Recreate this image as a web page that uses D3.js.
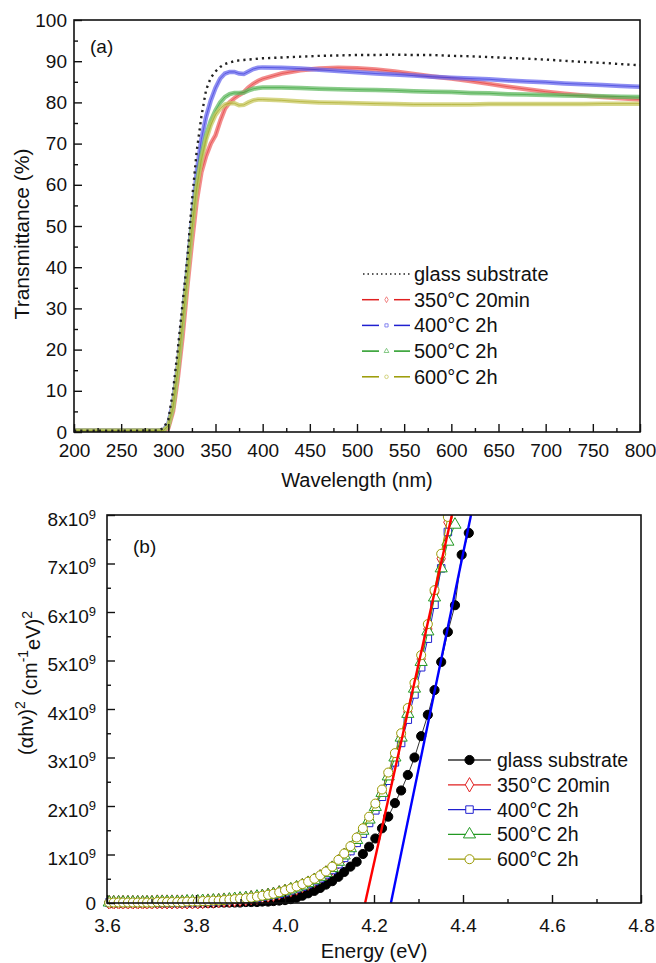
<!DOCTYPE html>
<html>
<head>
<meta charset="utf-8">
<script src="https://cdn.jsdelivr.net/npm/d3@7/dist/d3.min.js"></script>
<style>
  body { margin: 0; background: #fff; }
  text { font-family: Arial, "Liberation Sans", sans-serif; fill: #111; }
</style>
</head>
<body>
<div id="root"></div>
<script>
// ---- panel (a): transmittance spectra ----
const wavelength = [200, 250, 290,
  295, 300, 305, 310, 315, 320, 325, 330, 335, 340, 345, 350, 355, 360, 365, 370, 375, 380, 385, 390, 395, 400,
  420, 440, 460, 480, 500, 520, 540, 560, 580, 600, 620, 640, 660, 680, 700, 720, 740, 760, 780, 800];
const transGlass = [0.3, 0.3, 0.4,
  1, 3, 10, 20, 31, 42, 56, 68, 76.5, 83, 86, 87.5, 88.6, 89.3, 89.7, 90, 90.2, 90.3, 90.4, 90.5, 90.6, 90.7,
  90.9, 91.1, 91.3, 91.4, 91.5, 91.5, 91.6, 91.5, 91.5, 91.3, 91.2, 91.0, 90.8, 90.6, 90.4, 90.1, 89.8, 89.6, 89.3, 89.0];
const trans350 = [0.3, 0.3, 0.3,
  0.3, 1, 5, 13, 23, 35, 46, 56, 63, 67, 70, 72, 75.5, 78.5, 80, 81, 81.8, 82.5, 83.6, 84.5, 85.2, 85.7,
  87, 87.8, 88.2, 88.4, 88.3, 88, 87.5, 86.9, 86.3, 85.8, 85.2, 84.5, 83.8, 83.2, 82.6, 82.1, 81.7, 81.3, 81.0, 80.7];
const trans400 = [0.3, 0.3, 0.3,
  0.5, 2, 7, 16, 27, 39, 51, 63, 71, 76.5, 80.5, 83.5, 85.8, 87, 87.4, 87.4, 87.0, 86.9, 87.5, 88.1, 88.4, 88.5,
  88.4, 88.2, 87.9, 87.6, 87.3, 87.0, 86.8, 86.5, 86.2, 86.0, 85.8, 85.6, 85.3, 85.1, 84.9, 84.6, 84.4, 84.2, 84.0, 83.8];
const trans500 = [0.3, 0.3, 0.3,
  0.4, 1.5, 6, 15, 26, 38, 50, 60, 67, 72, 75.5, 78, 80, 81.3, 82, 82.3, 82.3, 82.4, 82.9, 83.3, 83.5, 83.6,
  83.6, 83.5, 83.3, 83.2, 83.1, 83.0, 82.9, 82.7, 82.6, 82.5, 82.3, 82.2, 82.0, 81.9, 81.8, 81.7, 81.6, 81.5, 81.4, 81.3];
const trans600 = [0.3, 0.3, 0.3,
  0.4, 1.5, 6, 15, 26, 37, 49, 59, 66, 71, 74.5, 77, 78.5, 79.5, 79.8, 79.8, 79.3, 79.4, 80.0, 80.5, 80.7, 80.7,
  80.5, 80.2, 80.0, 79.9, 79.8, 79.7, 79.6, 79.5, 79.5, 79.5, 79.5, 79.6, 79.6, 79.6, 79.6, 79.6, 79.6, 79.7, 79.7, 79.7];

// ---- panel (b): (alpha h nu)^2 vs energy, values in units of 1e9 ----
const energy = [3.605, 3.615, 3.626, 3.636, 3.647, 3.658, 3.669, 3.680, 3.690, 3.701,
  3.713, 3.724, 3.735, 3.746, 3.758, 3.769, 3.780, 3.792, 3.804, 3.815,
  3.827, 3.839, 3.851, 3.863, 3.875, 3.887, 3.899, 3.912, 3.924, 3.937,
  3.949, 3.962, 3.974, 3.987, 4.000, 4.013, 4.026, 4.039, 4.052, 4.066,
  4.079, 4.092, 4.106, 4.120, 4.133, 4.147, 4.161, 4.175, 4.189, 4.203,
  4.218, 4.232, 4.247, 4.261, 4.276, 4.291, 4.306, 4.321, 4.336, 4.351,
  4.366, 4.382, 4.397, 4.413];
const tgGlass = [0, 0, 0, 0, 0, 0, 0, 0, 0, 0,
  0, 0, 0, 0, 0, 0, 0, 0, 0, 0,
  0, 0, 0.01, 0.01, 0.01, 0.01, 0.01, 0.02, 0.02, 0.02,
  0.03, 0.03, 0.04, 0.05, 0.06, 0.08, 0.11, 0.15, 0.20, 0.25,
  0.31, 0.38, 0.45, 0.54, 0.64, 0.75, 0.85, 1.01, 1.16, 1.33,
  1.54, 1.78, 2.06, 2.32, 2.64, 3.00, 3.44, 3.88, 4.39, 4.97,
  5.59, 6.14, 7.18, 7.63];
const tg350 = [0.01, 0.01, 0.01, 0.01, 0.01, 0.01, 0.01, 0.01, 0.01, 0.01,
  0.02, 0.02, 0.02, 0.02, 0.02, 0.02, 0.02, 0.02, 0.02, 0.03,
  0.04, 0.04, 0.05, 0.06, 0.06, 0.07, 0.08, 0.09, 0.11, 0.12,
  0.14, 0.16, 0.18, 0.21, 0.24, 0.27, 0.31, 0.36, 0.41, 0.47,
  0.54, 0.62, 0.72, 0.85, 0.98, 1.13, 1.30, 1.49, 1.72, 1.99,
  2.28, 2.62, 3.02, 3.43, 3.94, 4.46, 5.03, 5.65, 6.40, 7.10,
  7.85];
const tg400 = [0.01, 0.01, 0.01, 0.01, 0.01, 0.01, 0.01, 0.01, 0.01, 0.01,
  0.01, 0.01, 0.01, 0.01, 0.01, 0.01, 0.02, 0.02, 0.02, 0.03,
  0.03, 0.04, 0.04, 0.05, 0.06, 0.07, 0.08, 0.09, 0.10, 0.11,
  0.13, 0.15, 0.17, 0.19, 0.22, 0.26, 0.30, 0.34, 0.39, 0.45,
  0.51, 0.59, 0.68, 0.80, 0.93, 1.07, 1.24, 1.43, 1.65, 1.91,
  2.19, 2.52, 2.90, 3.30, 3.78, 4.30, 4.86, 5.45, 6.15, 6.90,
  7.65];
const tg500 = [0.01, 0.01, 0.01, 0.01, 0.01, 0.01, 0.01, 0.01, 0.01, 0.01,
  0.02, 0.02, 0.02, 0.02, 0.02, 0.02, 0.03, 0.03, 0.03, 0.04,
  0.04, 0.05, 0.05, 0.06, 0.07, 0.08, 0.09, 0.10, 0.11, 0.13,
  0.14, 0.16, 0.18, 0.21, 0.24, 0.28, 0.32, 0.36, 0.41, 0.47,
  0.54, 0.62, 0.72, 0.85, 0.98, 1.13, 1.30, 1.49, 1.72, 1.98,
  2.27, 2.61, 3.00, 3.41, 3.90, 4.42, 4.97, 5.60, 6.30, 6.90,
  7.45, 7.80];
const tg600 = [0.01, 0.01, 0.01, 0.01, 0.01, 0.01, 0.01, 0.01, 0.01, 0.01,
  0.02, 0.02, 0.02, 0.02, 0.02, 0.02, 0.03, 0.03, 0.03, 0.04,
  0.04, 0.05, 0.05, 0.06, 0.07, 0.08, 0.09, 0.10, 0.11, 0.13,
  0.15, 0.17, 0.19, 0.22, 0.26, 0.30, 0.34, 0.39, 0.44, 0.50,
  0.57, 0.65, 0.75, 0.89, 1.02, 1.17, 1.35, 1.54, 1.78, 2.05,
  2.34, 2.69, 3.09, 3.50, 4.02, 4.54, 5.11, 5.75, 6.45, 7.20,
  7.96];
// linear fits (energy, value) end points
const fit350 = [[4.180, 0], [4.375, 8]];
const fit600 = [[4.238, 0], [4.418, 8]];

const seriesNames = ['glass substrate', '350\u00b0C 20min', '400\u00b0C 2h', '500\u00b0C 2h', '600\u00b0C 2h'];
const xTicksA = [200, 250, 300, 350, 400, 450, 500, 550, 600, 650, 700, 750, 800];
const yTicksA = [0, 10, 20, 30, 40, 50, 60, 70, 80, 90, 100];
const xTicksB = [3.6, 3.8, 4.0, 4.2, 4.4, 4.6, 4.8];
const yTicksB = [0, 1, 2, 3, 4, 5, 6, 7, 8];

const colors = ['#111', '#e02020', '#2020d0', '#229922', '#999900'];
const bandColors = ['#111', '#ee6666', '#6a6aee', '#66bb66', '#c8c860'];
const symbols = [d3.symbolCircle, d3.symbolDiamond, d3.symbolSquare, d3.symbolTriangle, d3.symbolCircle];
const symbolSizes = [66, 60, 56, 64, 64];

const svg = d3.select('#root').append('svg')
  .attr('width', 656)
  .attr('height', 963);

function drawAxes(box, x, y, xMajor, xMinor, yMajor, yMinor, fmtX, padX) {
  const g = svg.append('g');
  g.append('g')
    .attr('transform', `translate(0,${ box.bottom })`)
    .call(d3.axisBottom(x).tickValues(xMinor).tickSize(-4).tickFormat(''))
    .call((s) => s.select('.domain').remove());
  g.append('g')
    .attr('transform', `translate(0,${ box.bottom })`)
    .call(d3.axisBottom(x).tickValues(xMajor).tickSize(-8).tickPadding(padX).tickFormat(fmtX))
    .call((s) => s.select('.domain').remove())
    .selectAll('text').attr('font-size', '19px');
  g.append('g')
    .attr('transform', `translate(${ box.left },0)`)
    .call(d3.axisLeft(y).tickValues(yMinor).tickSize(-4).tickFormat(''))
    .call((s) => s.select('.domain').remove());
  const yAxis = g.append('g')
    .attr('transform', `translate(${ box.left },0)`)
    .call(d3.axisLeft(y).tickValues(yMajor).tickSize(-8).tickPadding(7))
    .call((s) => s.select('.domain').remove());
  yAxis.selectAll('text').attr('font-size', '19px');
  g.selectAll('.tick line').attr('stroke', '#111').attr('stroke-width', 1.4);
  g.append('rect')
    .attr('x', box.left).attr('y', box.top)
    .attr('width', box.right - box.left).attr('height', box.bottom - box.top)
    .attr('fill', 'none').attr('stroke', '#111').attr('stroke-width', 1.6);
  return yAxis;
}

// ---------------- panel (a) ----------------
const boxA = { left: 74, right: 640, top: 20, bottom: 432 };
const xA = d3.scaleLinear().domain([200, 800]).range([boxA.left, boxA.right]);
const yA = d3.scaleLinear().domain([0, 100]).range([boxA.bottom, boxA.top]);

svg.append('clipPath').attr('id', 'clipA').append('rect')
  .attr('x', boxA.left).attr('y', boxA.top)
  .attr('width', boxA.right - boxA.left).attr('height', boxA.bottom - boxA.top);

const lineA = d3.line().x((d) => xA(d[0])).y((d) => yA(d[1]));
const plotA = svg.append('g').attr('clip-path', 'url(#clipA)');
const transSeries = [transGlass, trans350, trans400, trans500, trans600];
[1, 2, 3, 4].forEach((i) => {
  const pts = wavelength.map((w, k) => [w, transSeries[i][k]]);
  plotA.append('path').attr('d', lineA(pts))
    .attr('fill', 'none').attr('stroke', bandColors[i])
    .attr('stroke-width', 4.5).attr('stroke-opacity', 0.75);
  plotA.append('path').attr('d', lineA(pts))
    .attr('fill', 'none').attr('stroke', colors[i])
    .attr('stroke-width', 0.8).attr('stroke-opacity', 0.6);
});
plotA.append('path')
  .attr('d', lineA(wavelength.map((w, k) => [w, transGlass[k]])))
  .attr('fill', 'none').attr('stroke', '#222')
  .attr('stroke-width', 2.4).attr('stroke-dasharray', '2.2,4');

drawAxes(boxA, xA, yA, xTicksA, d3.range(225, 800, 50), yTicksA, d3.range(5, 100, 10), d3.format('d'), 12);

svg.append('text').attr('x', 90).attr('y', 53).attr('font-size', '19px').text('(a)');
svg.append('text')
  .attr('transform', 'translate(29,234) rotate(-90)')
  .attr('text-anchor', 'middle').attr('font-size', '21px')
  .text('Transmittance (%)');
svg.append('text')
  .attr('x', (boxA.left + boxA.right) / 2).attr('y', 487)
  .attr('text-anchor', 'middle').attr('font-size', '20px')
  .text('Wavelength (nm)');

// legend (a)
const legA = svg.append('g');
seriesNames.forEach((name, i) => {
  const cy = 274 + i * 25.7;
  if (i === 0) {
    legA.append('line').attr('x1', 363).attr('x2', 410).attr('y1', cy).attr('y2', cy)
      .attr('stroke', '#222').attr('stroke-width', 1.5).attr('stroke-dasharray', '1.5,3');
  } else {
    [[362, 379], [394, 410]].forEach(([x1, x2]) => {
      legA.append('line').attr('x1', x1).attr('x2', x2).attr('y1', cy).attr('y2', cy)
        .attr('stroke', colors[i]).attr('stroke-width', 1.5);
    });
    legA.append('path')
      .attr('d', d3.symbol(symbols[i], 10)())
      .attr('transform', `translate(386.5,${ cy })`)
      .attr('fill', 'none').attr('stroke', bandColors[i]).attr('stroke-width', 0.8);
  }
  legA.append('text').attr('x', 414).attr('y', cy + 7)
    .attr('font-size', '20px').text(name);
});

// ---------------- panel (b) ----------------
const boxB = { left: 107, right: 641, top: 515, bottom: 903 };
const xB = d3.scaleLinear().domain([3.6, 4.8]).range([boxB.left, boxB.right]);
const yB = d3.scaleLinear().domain([0, 8]).range([boxB.bottom, boxB.top]);

svg.append('clipPath').attr('id', 'clipB').append('rect')
  .attr('x', boxB.left - 6).attr('y', boxB.top)
  .attr('width', boxB.right - boxB.left + 6).attr('height', boxB.bottom - boxB.top + 6);

const lineB = d3.line().x((d) => xB(d[0])).y((d) => yB(d[1]));
const plotB = svg.append('g').attr('clip-path', 'url(#clipB)');
const tgSeries = [tgGlass, tg350, tg400, tg500, tg600];

tgSeries.forEach((vals, i) => {
  const pts = vals.map((v, k) => [energy[k], v]);
  plotB.append('path').attr('d', lineB(pts))
    .attr('fill', 'none').attr('stroke', i === 0 ? '#333' : colors[i]).attr('stroke-width', 1);
  plotB.selectAll(null).data(pts).enter().append('path')
    .attr('d', d3.symbol(symbols[i], symbolSizes[i])())
    .attr('transform', (d) => `translate(${ xB(d[0]) },${ yB(d[1]) })`)
    .attr('fill', i === 0 ? '#000' : '#fff')
    .attr('stroke', i === 0 ? '#000' : colors[i])
    .attr('stroke-width', 1);
});

plotB.append('path').attr('d', lineB(fit350))
  .attr('fill', 'none').attr('stroke', '#ff0000').attr('stroke-width', 2.4);
plotB.append('path').attr('d', lineB(fit600))
  .attr('fill', 'none').attr('stroke', '#0000ff').attr('stroke-width', 2.4);

const yAxisB = drawAxes(boxB, xB, yB, xTicksB, d3.range(3.7, 4.8, 0.2), yTicksB, d3.range(0.5, 8, 1), d3.format('.1f'), 16);
yAxisB.selectAll('.tick text').each(function (d) {
  const t = d3.select(this).text(null).attr('x', -11);
  if (d === 0) {
    t.text('0');
    return;
  }
  t.append('tspan').text(`${ d }x10`);
  t.append('tspan').attr('dy', '-0.55em').attr('font-size', '13px').text('9');
  t.attr('dy', '0.55em');
});

svg.append('text').attr('x', 133).attr('y', 553).attr('font-size', '19px').text('(b)');

const yTitleB = svg.append('text')
  .attr('transform', 'translate(33,683) rotate(-90)')
  .attr('text-anchor', 'middle').attr('font-size', '20px');
yTitleB.append('tspan').text('(\u03b1h\u03bd)');
yTitleB.append('tspan').attr('dy', '-0.6em').attr('font-size', '14px').text('2');
yTitleB.append('tspan').attr('dy', '0.6em').text(' (cm');
yTitleB.append('tspan').attr('dy', '-0.6em').attr('font-size', '14px').text('-1');
yTitleB.append('tspan').attr('dy', '0.6em').text('eV)');
yTitleB.append('tspan').attr('dy', '-0.6em').attr('font-size', '14px').text('2');

svg.append('text')
  .attr('x', (boxB.left + boxB.right) / 2).attr('y', 958)
  .attr('text-anchor', 'middle').attr('font-size', '20px')
  .text('Energy (eV)');

// legend (b)
const legB = svg.append('g');
seriesNames.forEach((name, i) => {
  const cy = 760 + i * 24.8;
  legB.append('line').attr('x1', 448).attr('x2', 491).attr('y1', cy).attr('y2', cy)
    .attr('stroke', i === 0 ? '#333' : colors[i]).attr('stroke-width', 1.3);
  legB.append('path')
    .attr('d', d3.symbol(symbols[i], symbolSizes[i])())
    .attr('transform', `translate(469.5,${ cy })`)
    .attr('fill', i === 0 ? '#000' : '#fff')
    .attr('stroke', i === 0 ? '#000' : colors[i]).attr('stroke-width', 1);
  legB.append('text').attr('x', 497).attr('y', cy + 7)
    .attr('font-size', '19.5px').text(name);
});
</script>
</body>
</html>
